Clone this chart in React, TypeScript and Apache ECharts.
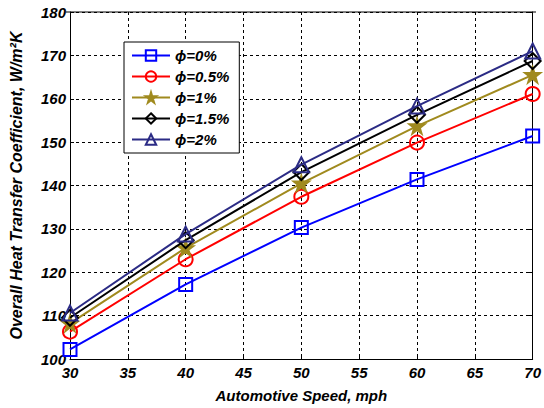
import React, { useEffect, useRef } from "react";
import * as echarts from "echarts";

const speeds = [30, 40, 50, 60, 70];
const seriesNames = ["ϕ=0%", "ϕ=0.5%", "ϕ=1%", "ϕ=1.5%", "ϕ=2%"];
const phi0 = [102.2, 117.2, 130.3, 141.4, 151.4];
const phi05 = [106.3, 123.0, 137.4, 149.9, 161.1];
const phi1 = [108.2, 125.6, 140.5, 153.7, 165.5];
const phi15 = [109.5, 127.4, 143.1, 156.3, 168.7];
const phi2 = [110.6, 128.8, 144.8, 158.3, 171.0];

const STAR =
  "path://M50,0 L61,35 L98,35 L68,57 L79,92 L50,70 L21,92 L32,57 L2,35 L39,35 Z";

export default function App() {
  const ref = useRef<HTMLDivElement>(null);
  useEffect(() => {
    if (!ref.current) return;
    const chart = echarts.init(ref.current, undefined, { renderer: "svg" });
    const colors = ["#0000ff", "#ff0000", "#a08a1e", "#000000", "#2b2b85"];
    const symbols = ["rect", "circle", STAR, "diamond", "triangle"];
    const sizes = [13, 14, 15, 16, 15];
    const datas = [phi0, phi05, phi1, phi15, phi2];
    const font = { fontFamily: "Liberation Sans, Arial, sans-serif", fontWeight: "bold" as const, fontStyle: "italic" as const };
    chart.setOption({
      animation: false,
      backgroundColor: "#ffffff",
      grid: { left: 66, right: 8, top: 12, bottom: 43, show: false },
      legend: {
        orient: "vertical",
        left: 124,
        top: 42,
        backgroundColor: "#ffffff",
        borderColor: "#000000",
        borderWidth: 1,
        padding: [6, 10, 6, 7],
        itemWidth: 38,
        itemHeight: 13,
        itemGap: 6,
        data: seriesNames,
        textStyle: { ...font, fontSize: 15, color: "#000" },
      },
      xAxis: {
        type: "value",
        min: 30,
        max: 70,
        interval: 5,
        name: "Automotive Speed, mph",
        nameLocation: "middle",
        nameGap: 29,
        nameTextStyle: { ...font, fontSize: 15, color: "#000" },
        axisLine: { show: true, onZero: false, lineStyle: { color: "#000", width: 1 } },
        axisTick: { show: true, inside: true, length: 4, lineStyle: { color: "#000" } },
        axisLabel: { ...font, fontSize: 15, color: "#000", margin: 6 },
        splitLine: { show: true, lineStyle: { color: "#000", type: [3, 3], width: 1 } },
      },
      yAxis: [
        {
          type: "value",
          min: 100,
          max: 180,
          interval: 10,
          name: "Overall Heat Transfer Coefficient, W/m²K",
          nameLocation: "middle",
          nameGap: 46,
          nameTextStyle: { ...font, fontSize: 16, color: "#000" },
          axisLine: { show: true, onZero: false, lineStyle: { color: "#000", width: 1 } },
          axisTick: { show: true, inside: true, length: 4, lineStyle: { color: "#000" } },
          axisLabel: { ...font, fontSize: 15, color: "#000", margin: 4 },
          splitLine: { show: true, lineStyle: { color: "#000", type: [3, 3], width: 1 } },
        },
        {
          type: "value",
          min: 100,
          max: 180,
          interval: 10,
          position: "right",
          axisLine: { show: true, onZero: false, lineStyle: { color: "#000", width: 1 } },
          axisTick: { show: true, inside: true, length: 4, lineStyle: { color: "#000" } },
          axisLabel: { show: false },
          splitLine: { show: false },
        },
      ],
      graphic: [
        {
          type: "line",
          shape: { x1: 66, y1: 12, x2: 536, y2: 12 },
          style: { stroke: "#000", lineWidth: 1 },
          z: 100,
        },
      ],
      series: datas.map((d, i) => ({
        name: seriesNames[i],
        type: "line",
        data: speeds.map((s, j) => [s, d[j]]),
        symbol: symbols[i],
        symbolSize: sizes[i],
        showAllSymbol: true,
        color: colors[i],
        lineStyle: { color: colors[i], width: 2 },
        itemStyle: {
          color: i === 2 ? colors[i] : "rgba(255,255,255,0)",
          borderColor: colors[i],
          borderWidth: 2,
        },
        z: 5 + i,
      })),
    });
    return () => chart.dispose();
  }, []);
  return <div ref={ref} style={{ width: 544, height: 408, position: "absolute", left: 0, top: 0 }} />;
}
